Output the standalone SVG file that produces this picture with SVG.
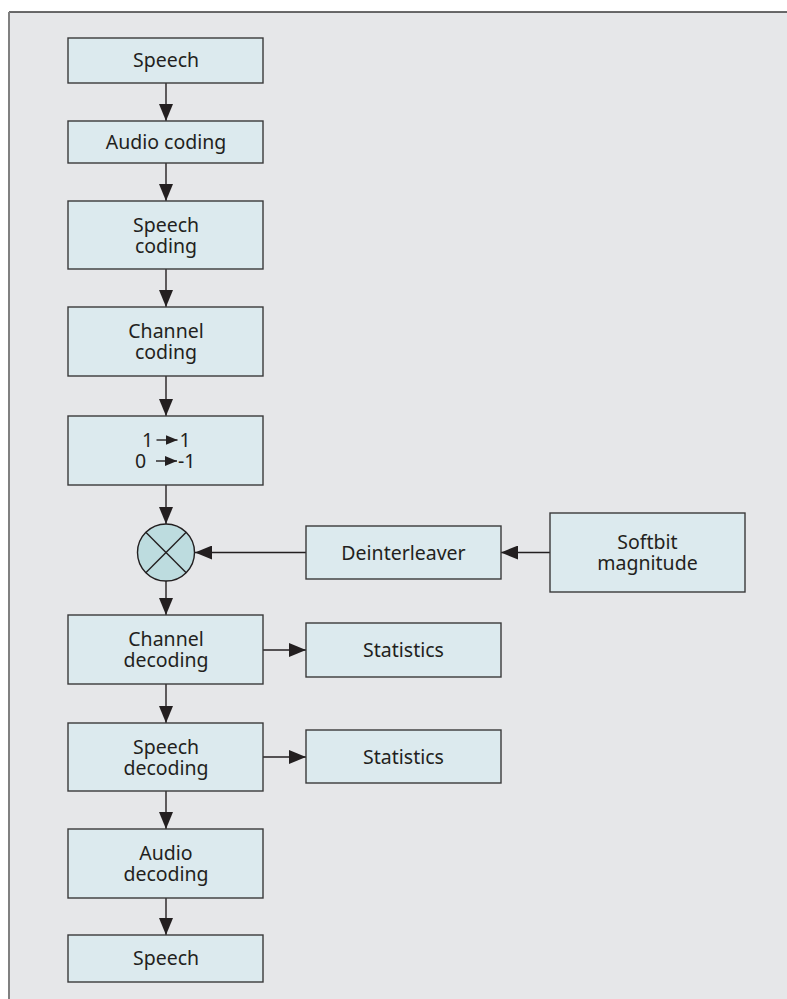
<svg xmlns="http://www.w3.org/2000/svg" width="787" height="999" viewBox="0 0 787 999">
<style>
.box{fill:#dceaee;stroke:#3a3a3a;stroke-width:1.4}
.t{font-family:"Noto Sans","Open Sans","DejaVu Sans",sans-serif;font-size:19.5px;fill:#231f20;text-anchor:middle}
.c{stroke:#231f20;stroke-width:1.4;fill:none}
</style>
<defs>
<marker id="ah" markerUnits="userSpaceOnUse" markerWidth="18" markerHeight="14" refX="17" refY="7" orient="auto">
<path d="M0,0 L17,7 L0,14 z" fill="#231f20"/>
</marker>
<marker id="sa" markerUnits="userSpaceOnUse" markerWidth="12" markerHeight="10" refX="12" refY="5" orient="auto">
<path d="M0,0 L12,5 L0,10 z" fill="#231f20"/>
</marker>
</defs>
<rect x="9" y="12" width="800" height="1000" fill="#e6e7e9"/>
<line x1="9" y1="12" x2="787" y2="12" stroke="#3a3a3a" stroke-width="1.5"/>
<line x1="9" y1="12" x2="9" y2="999" stroke="#808080" stroke-width="2"/>

<g id="connectors">
<line class="c" x1="166" y1="83" x2="166" y2="121" marker-end="url(#ah)"/>
<line class="c" x1="166" y1="163" x2="166" y2="201" marker-end="url(#ah)"/>
<line class="c" x1="166" y1="269" x2="166" y2="307" marker-end="url(#ah)"/>
<line class="c" x1="166" y1="376" x2="166" y2="416" marker-end="url(#ah)"/>
<line class="c" x1="166" y1="485" x2="166" y2="524" marker-end="url(#ah)"/>
<line class="c" x1="306" y1="552.5" x2="195" y2="552.5" marker-end="url(#ah)"/>
<line class="c" x1="550" y1="552.5" x2="501" y2="552.5" marker-end="url(#ah)"/>
<line class="c" x1="166" y1="581" x2="166" y2="615" marker-end="url(#ah)"/>
<line class="c" x1="263" y1="650" x2="306" y2="650" marker-end="url(#ah)"/>
<line class="c" x1="166" y1="684" x2="166" y2="723" marker-end="url(#ah)"/>
<line class="c" x1="263" y1="757" x2="306" y2="757" marker-end="url(#ah)"/>
<line class="c" x1="166" y1="791" x2="166" y2="829" marker-end="url(#ah)"/>
<line class="c" x1="166" y1="898" x2="166" y2="935" marker-end="url(#ah)"/>
</g>

<g id="speech-in"><rect class="box" x="68" y="38" width="195" height="45"/><text class="t" x="166" y="67">Speech</text></g>
<g id="audio-coding"><rect class="box" x="68" y="121" width="195" height="42"/><text class="t" x="166" y="149">Audio coding</text></g>
<g id="speech-coding"><rect class="box" x="68" y="201" width="195" height="68"/><text class="t" y="231.5"><tspan x="166">Speech</tspan><tspan x="166" dy="21">coding</tspan></text></g>
<g id="channel-coding"><rect class="box" x="68" y="307" width="195" height="69"/><text class="t" y="338"><tspan x="166">Channel</tspan><tspan x="166" dy="21">coding</tspan></text></g>
<g id="mapping"><rect class="box" x="68" y="416" width="195" height="69"/>
<text class="t" style="text-anchor:start" y="446.5"><tspan x="142">1</tspan><tspan x="156" fill-opacity="0"> →</tspan><tspan x="179.5">1</tspan><tspan x="135" dy="21">0</tspan><tspan x="156" fill-opacity="0"> →</tspan><tspan x="178">-1</tspan></text>
<line class="c" x1="156.5" y1="440" x2="177.5" y2="440" marker-end="url(#sa)"/>
<line class="c" x1="156" y1="461" x2="177" y2="461" marker-end="url(#sa)"/>
</g>
<g id="multiplier"><circle cx="166" cy="552.5" r="28.5" fill="#bddcdf" stroke="#231f20" stroke-width="1.4"/>
<line class="c" x1="145.8" y1="532.3" x2="186.2" y2="572.7"/><line class="c" x1="186.2" y1="532.3" x2="145.8" y2="572.7"/></g>
<g id="deinterleaver"><rect class="box" x="306" y="526" width="195" height="53"/><text class="t" x="403.5" y="559.5">Deinterleaver</text></g>
<g id="softbit"><rect class="box" x="550" y="513" width="195" height="79"/><text class="t" y="549"><tspan x="647.5">Softbit</tspan><tspan x="647.5" dy="21">magnitude</tspan></text></g>
<g id="channel-decoding"><rect class="box" x="68" y="615" width="195" height="69"/><text class="t" y="646"><tspan x="166">Channel</tspan><tspan x="166" dy="21">decoding</tspan></text></g>
<g id="stats1"><rect class="box" x="306" y="623" width="195" height="54"/><text class="t" x="403.5" y="657">Statistics</text></g>
<g id="speech-decoding"><rect class="box" x="68" y="723" width="195" height="68"/><text class="t" y="753.5"><tspan x="166">Speech</tspan><tspan x="166" dy="21">decoding</tspan></text></g>
<g id="stats2"><rect class="box" x="306" y="730" width="195" height="53"/><text class="t" x="403.5" y="763.5">Statistics</text></g>
<g id="audio-decoding"><rect class="box" x="68" y="829" width="195" height="69"/><text class="t" y="860"><tspan x="166">Audio</tspan><tspan x="166" dy="21">decoding</tspan></text></g>
<g id="speech-out"><rect class="box" x="68" y="935" width="195" height="47"/><text class="t" x="166" y="965">Speech</text></g>
</svg>
